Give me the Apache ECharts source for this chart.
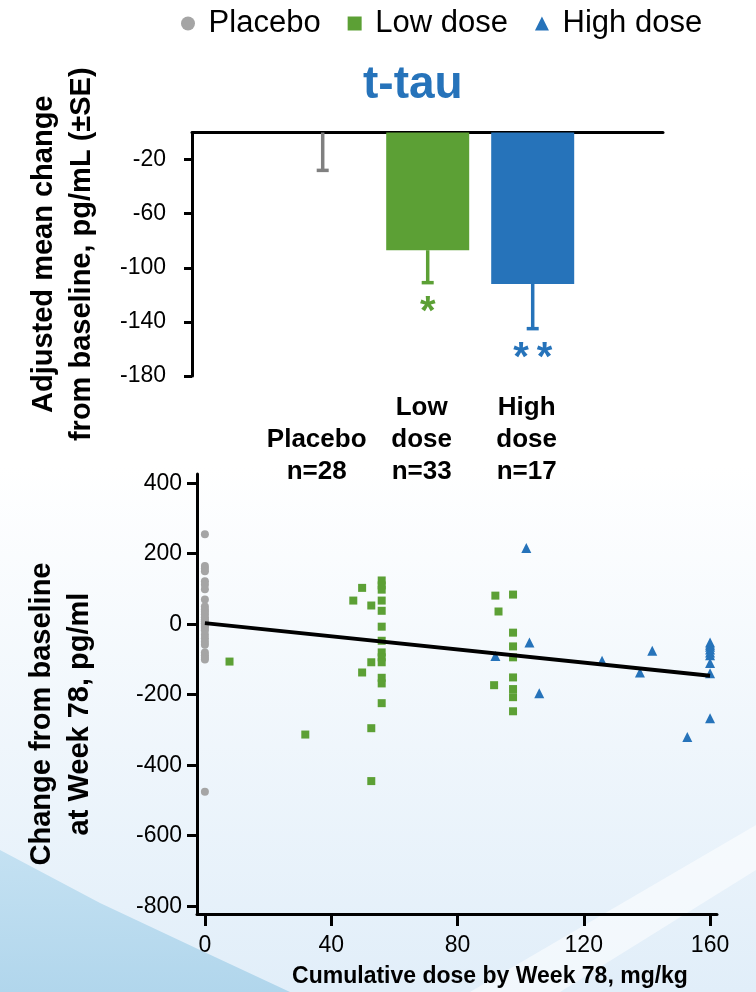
<!DOCTYPE html>
<html>
<head>
<meta charset="utf-8">
<title>t-tau</title>
<script src="https://cdn.jsdelivr.net/npm/echarts@6/dist/echarts.min.js"></script>
<style>
html, body { margin: 0; padding: 0; background: #fff; }
#main { width: 756px; height: 992px; }
</style>
</head>
<body>
<div id="main"></div>
<script>
// top panel: adjusted mean change (+/- SE)
var groups = ['Placebo', 'Low dose', 'High dose'];
var groupLabels = ['\nPlacebo\nn=28', 'Low\ndose\nn=33', 'High\ndose\nn=17'];
var adjMean = [0, -87, -112];
var adjSE = [28, 24, 33];
var signif = ['', '*', '**'];
var barTicks = [-180, -140, -100, -60, -20];

// bottom panel: [cumulative dose, change from baseline]
var placebo = [
	[0, 255], [0, 165], [0, 158], [0, 150], [0, 122], [0, 112], [0, 99],
	[0, 70], [0, 50], [0, 42], [0, 35], [0, 28], [0, 20], [0, 14],
	[0, 8], [0, 2], [0, -5], [0, -10], [0, -18], [0, -30], [0, -40],
	[0, -50], [0, -58], [0, -80], [0, -88], [0, -95], [0, -100], [0, -475]
];
var lowDose = [
	[7.8, -106], [31.8, -313], [49.8, 103], [47, 67], [52.7, 53],
	[56, 124], [56, 110], [56, 98], [56, 67], [56, 38], [56, -7], [56, -47],
	[56, -80], [56, -94], [56, -108], [56, -152], [56, -168], [56, -224],
	[52.7, -108], [49.8, -137], [52.7, -295], [52.7, -445],
	[92, 81], [93, 36], [97.6, 84],
	[97.6, -24], [97.6, -63], [97.6, -94], [97.6, -151], [97.6, -184], [97.6, -207], [97.6, -247],
	[91.6, -173]
];
var highDose = [
	[92, -90], [101.8, 216], [102.8, -52], [105.9, -196], [125.8, -104],
	[137.8, -137], [141.7, -75], [152.8, -320],
	[160, -52], [160, -58], [160, -64], [160, -72], [160, -80], [160, -88],
	[160, -110], [160, -139], [160, -267]
];
var fitX = [0, 160];
var fitY = [3, -146];
var doseTicks = [0, 40, 80, 120, 160];
var changeTicks = [-800, -600, -400, -200, 0, 200, 400];

var colors = { placebo: '#a5a5a5', low: '#5ca035', high: '#2673ba', bar0: '#808080' };
var barColors = [colors.bar0, colors.low, colors.high];
var font = "'Liberation Sans', Arial, sans-serif";

var barData = adjMean.map(function (v, i) {
	return { value: v, itemStyle: { color: barColors[i] } };
});
var errData = adjMean.map(function (v, i) {
	return [i, v, v - adjSE[i]];
});
var fitData = fitX.map(function (x, i) { return [x, fitY[i]]; });

var chart = echarts.init(document.getElementById('main'));

var option = {
	animation: false,
	backgroundColor: '#ffffff',
	textStyle: { fontFamily: font, color: '#000' },
	graphic: [
		{
			type: 'rect', z: -100, silent: true,
			shape: { x: 0, y: 0, width: 756, height: 992 },
			style: {
				fill: new echarts.graphic.LinearGradient(0, 0, 0, 1, [
					{ offset: 0, color: '#ffffff' },
					{ offset: 0.47, color: '#ffffff' },
					{ offset: 1, color: '#e1eef9' }
				])
			}
		},
		{
			type: 'polygon', z: -99, silent: true,
			shape: { points: [[470, 992], [756, 825], [756, 870], [560, 992]] },
			style: { fill: 'rgba(255,255,255,0.55)' }
		},
		{
			type: 'polygon', z: -98, silent: true,
			shape: { points: [[0, 850], [100, 903], [200, 950], [290, 992], [0, 992]] },
			style: {
				fill: new echarts.graphic.LinearGradient(0, 0, 0, 1, [
					{ offset: 0, color: '#c4e1f2' },
					{ offset: 1, color: '#b1d6ec' }
				])
			}
		}
	],
	title: {
		text: 't-tau',
		left: 363,
		top: 62,
		padding: 0,
		textStyle: { fontFamily: font, fontSize: 46, fontWeight: 'bold', color: colors.high }
	},
	legend: {
		data: [
			{ name: 'Placebo', icon: 'circle' },
			{ name: 'Low dose', icon: 'rect' },
			{ name: 'High dose', icon: 'triangle' }
		],
		formatter: ' {name}',
		left: 181,
		top: 8,
		padding: 0,
		itemWidth: 14,
		itemHeight: 14,
		itemGap: 27,
		textStyle: { fontFamily: font, fontSize: 31, color: '#000' }
	},
	grid: [
		{ left: 192, top: 132.5, width: 471, height: 243.5 },
		{ left: 270.2, top: 132.5, width: 315, height: 243.5 },
		{ left: 197, top: 474, width: 520, height: 440 }
	],
	xAxis: [
		{
			gridIndex: 0, type: 'value', min: 0, max: 1, position: 'top',
			axisLine: { lineStyle: { color: '#000', width: 3 } },
			axisTick: { show: false }, axisLabel: { show: false }, splitLine: { show: false }
		},
		{
			gridIndex: 1, type: 'category', data: groups, position: 'bottom',
			axisLine: { show: false, onZero: false }, axisTick: { show: false },
			axisLabel: {
				interval: 0, hideOverlap: false,
				margin: 16, fontFamily: font, fontSize: 26, fontWeight: 'bold', lineHeight: 32,
				color: '#000', padding: [0, 12, 0, 0],
				formatter: function (v, i) { return groupLabels[i]; }
			}
		},
		{
			gridIndex: 2, type: 'value', min: -2.5, max: 162.2,
			axisLine: { onZero: false, lineStyle: { color: '#000', width: 3 } },
			axisTick: { length: 12, lineStyle: { color: '#000', width: 3 }, customValues: doseTicks },
			axisLabel: { customValues: doseTicks, fontFamily: font, fontSize: 23, color: '#000', margin: 20 },
			splitLine: { show: false },
			name: 'Cumulative dose by Week 78, mg/kg',
			nameLocation: 'middle',
			nameGap: 51,
			nameTextStyle: { fontFamily: font, fontSize: 23, fontWeight: 'bold', color: '#000', padding: [0, 0, 0, 66] }
		}
	],
	yAxis: [
		{
			gridIndex: 0, type: 'value', min: -180, max: 0,
			axisLine: { show: true, lineStyle: { color: '#000', width: 3 } },
			axisTick: { show: true, length: 8, lineStyle: { color: '#000', width: 3 }, customValues: barTicks },
			axisLabel: { customValues: barTicks, fontFamily: font, fontSize: 23, color: '#000', margin: 26 },
			splitLine: { show: false },
			name: 'Adjusted mean change\nfrom baseline, pg/mL (±SE)',
			nameLocation: 'middle',
			nameRotate: 90,
			nameGap: 91,
			nameTextStyle: { fontFamily: font, fontSize: 29, fontWeight: 'bold', lineHeight: 38, color: '#000' }
		},
		{ gridIndex: 1, type: 'value', min: -180, max: 0, show: false },
		{
			gridIndex: 2, type: 'value', min: -822, max: 426,
			axisLine: { show: true, onZero: false, lineStyle: { color: '#000', width: 3 } },
			axisTick: { show: true, length: 10, lineStyle: { color: '#000', width: 3 }, customValues: changeTicks },
			axisLabel: { customValues: changeTicks, fontFamily: font, fontSize: 23, color: '#000', margin: 15 },
			splitLine: { show: false },
			name: 'Change from baseline\nat Week 78, pg/ml',
			nameLocation: 'middle',
			nameRotate: 90,
			nameGap: 98,
			nameTextStyle: { fontFamily: font, fontSize: 29, fontWeight: 'bold', lineHeight: 38, color: '#000', padding: [0, 40, 0, 0] }
		}
	],
	series: [
		{
			name: 'Adjusted mean', type: 'bar', xAxisIndex: 1, yAxisIndex: 1,
			barWidth: 83, data: barData, silent: true
		},
		{
			name: 'SE', type: 'custom', xAxisIndex: 1, yAxisIndex: 1, data: errData, silent: true,
			renderItem: function (params, api) {
				var i = params.dataIndex;
				var c = barColors[i];
				var p0 = api.coord([api.value(0), api.value(1)]);
				var p1 = api.coord([api.value(0), api.value(2)]);
				var kids = [
					{ type: 'line', shape: { x1: p0[0], y1: p0[1], x2: p1[0], y2: p1[1] }, style: { stroke: c, lineWidth: 3.5 } },
					{ type: 'line', shape: { x1: p1[0] - 6, y1: p1[1], x2: p1[0] + 6, y2: p1[1] }, style: { stroke: c, lineWidth: 3.5 } }
				];
				if (signif[i]) {
					kids.push({
						type: 'text', x: p1[0], y: p1[1] + 30,
						style: {
							text: signif[i].split('').join('\u2009'), fill: c,
							fontFamily: font, fontSize: 40, fontWeight: 'bold',
							align: 'center', verticalAlign: 'middle'
						}
					});
				}
				return { type: 'group', children: kids };
			}
		},
		{
			name: 'Placebo', type: 'scatter', xAxisIndex: 2, yAxisIndex: 2,
			symbol: 'circle', symbolSize: 8, itemStyle: { color: colors.placebo, opacity: 1 },
			data: placebo
		},
		{
			name: 'Low dose', type: 'scatter', xAxisIndex: 2, yAxisIndex: 2,
			symbol: 'rect', symbolSize: 8, itemStyle: { color: colors.low, opacity: 1 },
			data: lowDose
		},
		{
			name: 'Fit', type: 'line', xAxisIndex: 2, yAxisIndex: 2,
			showSymbol: false, symbol: 'none', silent: true,
			lineStyle: { color: '#000', width: 4 },
			data: fitData
		},
		{
			name: 'High dose', type: 'scatter', xAxisIndex: 2, yAxisIndex: 2,
			symbol: 'triangle', symbolSize: 10, itemStyle: { color: colors.high, opacity: 1 },
			data: highDose
		}
	]
};

chart.setOption(option);
</script>
</body>
</html>
